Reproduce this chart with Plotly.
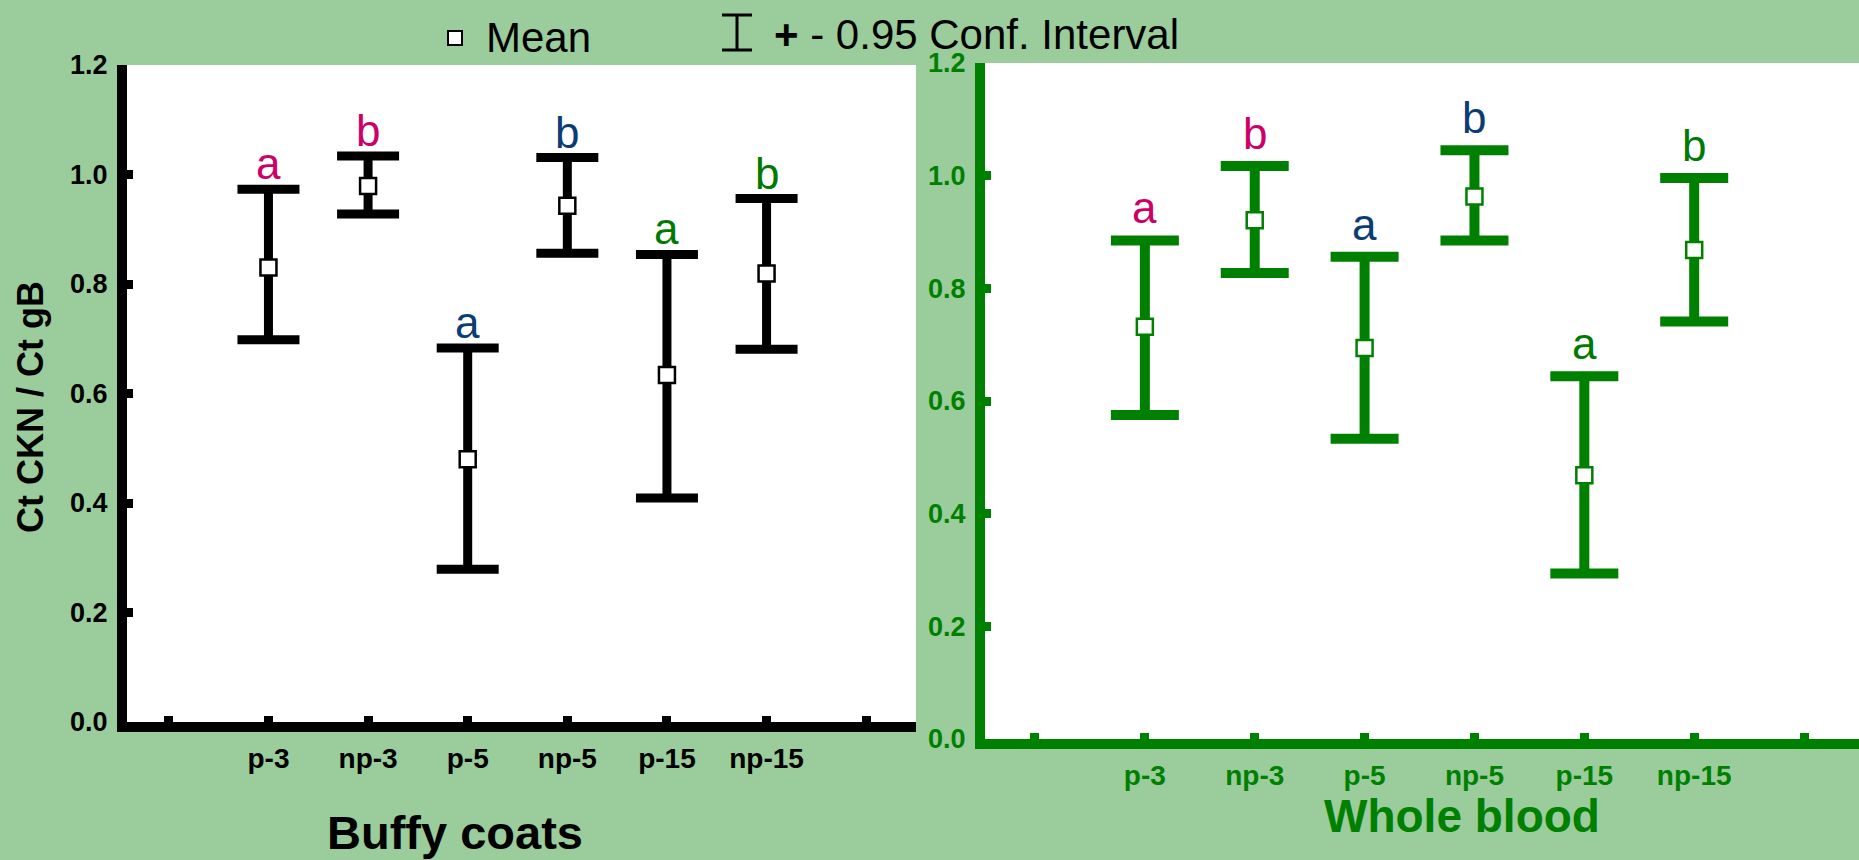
import plotly.graph_objects as go

# Group labels along the x axis (blank slots at both ends)
categories = ["p-3", "np-3", "p-5", "np-5", "p-15", "np-15"]
tick_labels = [""] + categories + [""]
y_ticks = [0.0, 0.2, 0.4, 0.6, 0.8, 1.0, 1.2]

# Buffy coats: mean and 95% confidence limits
buffy_mean = [0.830, 0.979, 0.480, 0.943, 0.634, 0.819]
buffy_low = [0.698, 0.928, 0.279, 0.856, 0.409, 0.681]
buffy_high = [0.973, 1.034, 0.683, 1.031, 0.854, 0.956]

# Whole blood: mean and 95% confidence limits
whole_mean = [0.732, 0.921, 0.694, 0.963, 0.468, 0.868]
whole_low = [0.575, 0.827, 0.533, 0.885, 0.294, 0.741]
whole_high = [0.885, 1.017, 0.856, 1.045, 0.644, 0.996]

# Significance letters above each interval
group_letters = ["a", "b", "a", "b", "a", "b"]
letter_colors = ["#CC0066", "#CC0066", "#0B3C74", "#0B3C74", "#007A00", "#007A00"]

W, H = 1859, 860
BG = "#9BCC9B"
GREEN = "#008000"
FONT = "Liberation Sans, Arial, sans-serif"

xpos = list(range(1, len(categories) + 1))


def px(x):
    return x / W


def py(y):
    return (H - y) / H


fig = go.Figure()

panels = [
    (buffy_mean, buffy_low, buffy_high, "black", "x", "y", 31, 9, -1),
    (whole_mean, whole_low, whole_high, GREEN, "x2", "y2", 34, 10, 6),
]
for mean, low, high, col, xa, ya, capw, thick, lift in panels:
    fig.add_trace(go.Scatter(
        x=xpos, y=mean, xaxis=xa, yaxis=ya, mode="markers",
        marker=dict(symbol="square", size=16, color="white",
                    line=dict(color=col, width=2.5)),
        error_y=dict(type="data", symmetric=False,
                     array=[h - m for h, m in zip(high, mean)],
                     arrayminus=[m - l for m, l in zip(mean, low)],
                     color=col, thickness=thick, width=capw),
        showlegend=False, hoverinfo="skip",
    ))
    for xi, top, letter, lc in zip(xpos, high, group_letters, letter_colors):
        fig.add_annotation(x=xi, y=top, xref=xa, yref=ya, text=letter,
                           showarrow=False, xanchor="center", yanchor="bottom",
                           yshift=lift,
                           font=dict(family=FONT, size=44, color=lc))

axis_common = dict(tickmode="array", tickvals=list(range(8)),
                   ticktext=tick_labels, showgrid=False, zeroline=False,
                   showline=True, linewidth=10, ticks="inside", ticklen=6,
                   tickwidth=9, ticklabelstandoff=2, fixedrange=True,
                   automargin=False)
yaxis_common = dict(range=[0, 1.2], tickmode="array", tickvals=y_ticks,
                    ticktext=[f"{v:.1f}" for v in y_ticks], showgrid=False,
                    zeroline=False, showline=True, linewidth=10, ticks="inside",
                    ticklen=6, tickwidth=9, ticklabelstandoff=4, fixedrange=True,
                    automargin=False)

fig.update_layout(
    width=W, height=H, autosize=False,
    margin=dict(l=0, r=0, t=0, b=0, pad=0),
    paper_bgcolor=BG, plot_bgcolor="white",
    font=dict(family=FONT),
    xaxis=dict(axis_common, range=[-0.42, 7.5], domain=[px(127), px(916)],
               anchor="y", linecolor="black", tickcolor="black",
               tickfont=dict(family=FONT, size=28, color="black", weight="bold")),
    yaxis=dict(yaxis_common, domain=[py(722), py(65)], anchor="x",
               linecolor="black", tickcolor="black",
               tickfont=dict(family=FONT, size=27, color="black", weight="bold")),
    xaxis2=dict(axis_common, range=[-0.455, 7.5], domain=[px(985), 1.0],
                anchor="y2", linecolor=GREEN, tickcolor=GREEN,
                tickfont=dict(family=FONT, size=28, color=GREEN, weight="bold")),
    yaxis2=dict(yaxis_common, domain=[py(739), py(63)], anchor="x2",
                linecolor=GREEN, tickcolor=GREEN,
                tickfont=dict(family=FONT, size=27, color=GREEN, weight="bold")),
)

# Panel titles and y axis title
fig.add_annotation(x=px(455), y=py(832), xref="paper", yref="paper",
                   xanchor="center", yanchor="middle",
                   text="Buffy coats", showarrow=False,
                   font=dict(family=FONT, size=47, color="black", weight="bold"))
fig.add_annotation(x=px(1462), y=py(816), xref="paper", yref="paper",
                   xanchor="center", yanchor="middle",
                   text="Whole blood", showarrow=False,
                   font=dict(family=FONT, size=46, color=GREEN, weight="bold"))
fig.add_annotation(x=px(30), y=py(407), xref="paper", yref="paper",
                   xanchor="center", yanchor="middle",
                   text="Ct CKN / Ct gB", showarrow=False, textangle=-90,
                   font=dict(family=FONT, size=36, color="black", weight="bold"))

# Legend: open square for the mean, I-beam for the confidence interval
fig.add_shape(type="rect", xref="paper", yref="paper",
              x0=px(448), x1=px(462), y0=py(45), y1=py(31),
              line=dict(color="black", width=2), fillcolor="white")
fig.add_annotation(x=px(484), y=py(37), xref="paper", yref="paper",
                   text="Mean", showarrow=False, xanchor="left",
                   yanchor="middle",
                   font=dict(family=FONT, size=42, color="black"))
for x0, y0, x1, y1 in [(722, 15, 752, 15), (722, 50, 752, 50), (737, 15, 737, 50)]:
    fig.add_shape(type="line", xref="paper", yref="paper",
                  x0=px(x0), y0=py(y0), x1=px(x1), y1=py(y1),
                  line=dict(color="black", width=3))
fig.add_annotation(x=px(772), y=py(35), xref="paper", yref="paper",
                   text="<b>+</b> - 0.95 Conf. Interval", showarrow=False,
                   xanchor="left", yanchor="middle",
                   font=dict(family=FONT, size=42, color="black"))

fig.write_html("out.html", config={"displayModeBar": False})
